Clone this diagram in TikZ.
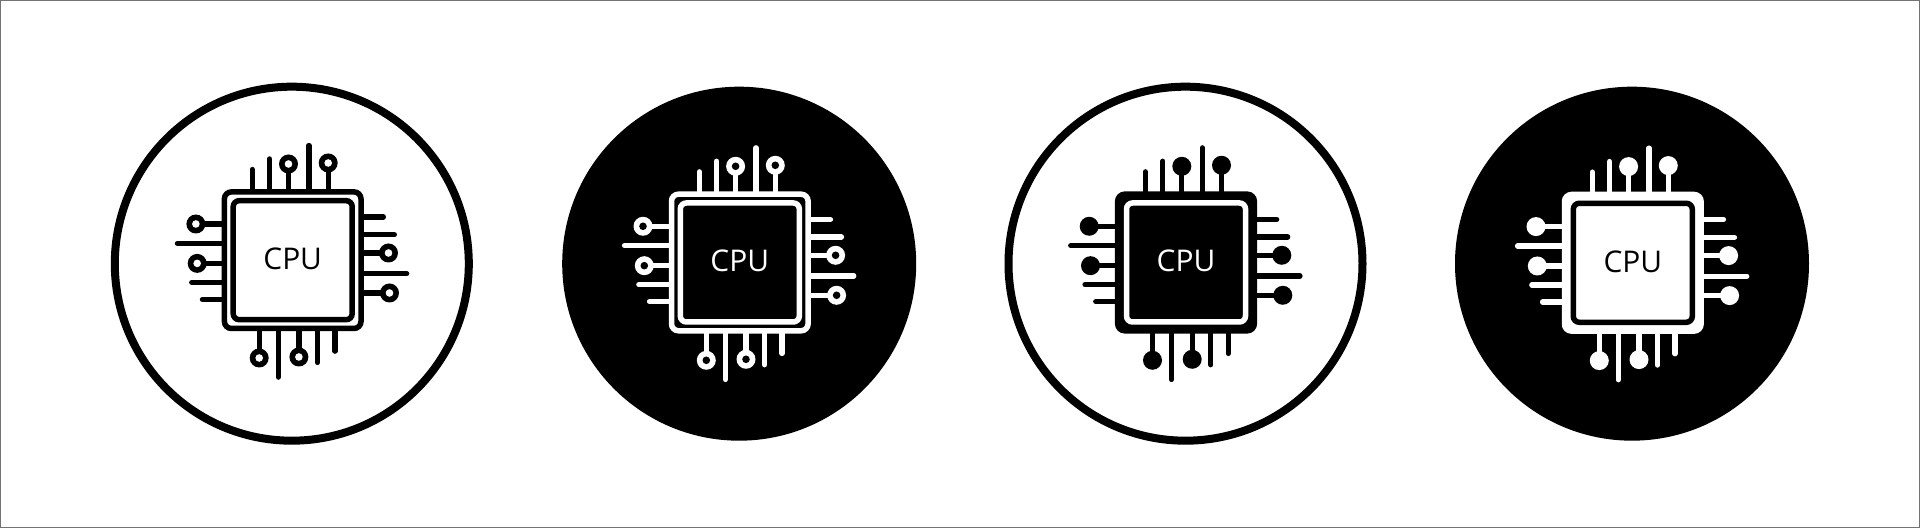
\documentclass[tikz,border=0pt]{standalone}
\usepackage{fontspec}
\setmainfont{Open Sans}
\usetikzlibrary{positioning}

\begin{document}
\begin{tikzpicture}[
    x=0.01cm, y=0.01cm,
    frame/.style={draw=black!55, line width=0.02cm},
    disc open/.style={draw=black, fill=white, line width=0.08cm},
    disc solid/.style={fill=black},
    pin/.style={line width=0.052cm, line cap=round},
    chipbody/.style={line width=0.055cm, rounded corners=0.07cm},
    chipcore/.style={line width=0.055cm, rounded corners=0.06cm},
    chiptext/.style={font=\fontsize{8.5}{10}\selectfont, inner sep=0pt}
]
    \useasboundingbox (0,0) rectangle (1920,528);
    \draw[frame] (0,0) rectangle (1920,528);

    % the four round backgrounds
    \draw[disc open] (291.8,264.3) circle (177);
    \fill[disc solid] (739.2,264.3) circle (177);
    \draw[disc open] (1185.5,264.3) circle (177);
    \fill[disc solid] (1632,264.3) circle (177);

    % one chip per disc: centre, pins, body, ring, core
    \foreach \cx/\cy/\name/\pinc/\chipc/\ringc/\corec in {
        292.7/267.8/a/black/white/black/white,
        739.8/265.5/b/white/black/white/black,
        1186/265.5/c/black/black/white/black,
        1632.8/265.2/d/white/white/black/white}
    {
        \begin{scope}[shift={(\cx,\cy)}]
            % plain pins
            \foreach \x/\y in {-40.5/90.7, -23.2/101.3, 16.2/114.7}
                \draw[pin, draw=\pinc] (\x,68) -- (\x,\y);
            \foreach \x/\y in {-14.5/-117, 24.8/-102.3, 42.2/-91}
                \draw[pin, draw=\pinc] (\x,-68) -- (\x,\y);
            \foreach \y/\x in {16.8/-115.3, -22.2/-101, -39.2/-90.3}
                \draw[pin, draw=\pinc] (-68,\y) -- (\x,\y);
            \foreach \y/\x in {43.2/90.7, 25.5/101.7, -13.5/114}
                \draw[pin, draw=\pinc] (68,\y) -- (\x,\y);
            % pins with a pad
            \foreach \x/\y in {-4.2/96.2, 35.5/97.2} {
                \draw[pin, draw=\pinc] (\x,68) -- (\x,\y);
                \fill[\pinc] (\x,\y) circle (9.5);
                \fill[\corec] (\x,\y) circle (3.8);
            }
            \foreach \x/\y in {-33.5/-97.8, 6.2/-96.8} {
                \draw[pin, draw=\pinc] (\x,-68) -- (\x,\y);
                \fill[\pinc] (\x,\y) circle (9.5);
                \fill[\corec] (\x,\y) circle (3.8);
            }
            \foreach \y/\x in {36.2/-96.8, -3.2/-95.5} {
                \draw[pin, draw=\pinc] (-68,\y) -- (\x,\y);
                \fill[\pinc] (\x,\y) circle (9.5);
                \fill[\corec] (\x,\y) circle (3.8);
            }
            \foreach \y/\x in {7.2/95.8, -32.8/96.8} {
                \draw[pin, draw=\pinc] (68,\y) -- (\x,\y);
                \fill[\pinc] (\x,\y) circle (9.5);
                \fill[\corec] (\x,\y) circle (3.8);
            }
            \draw[chipbody, draw=\pinc, fill=\chipc] (-68.3,-68.3) rectangle (68.3,68.3);
            \draw[chipcore, draw=\ringc, fill=\corec] (-59.5,-59.5) rectangle (59.5,59.5);
            \node[chiptext, text=\ringc] (cpu\name) at (0,1.3) {CPU};
        \end{scope}
    }
\end{tikzpicture}
\end{document}
